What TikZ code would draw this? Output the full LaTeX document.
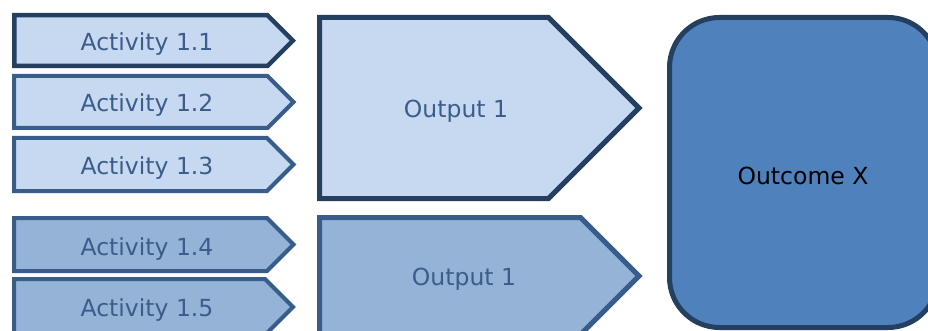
\documentclass[tikz,border=0pt]{standalone}
\usepackage{fontspec}
\setmainfont{DejaVu Sans}
\definecolor{paleblue}{HTML}{C6D9F1}
\definecolor{midblue}{HTML}{95B3D7}
\definecolor{strongblue}{HTML}{4F81BD}
\definecolor{navyline}{HTML}{243F60}
\definecolor{steelline}{HTML}{385D8A}
\definecolor{labelblue}{HTML}{3A5D8B}
\tikzset{
  chevron/.style={line width=4pt, miter limit=10, line join=miter},
  lbl/.style={anchor=base, inner sep=0pt, font=\fontsize{23.5}{28}\selectfont, text=labelblue},
}
% pentagon arrow: left x, top y, bottom y, right-end of straight part
\newcommand\pentarrow[5][]{%
  \draw[chevron,#1] (#2,#3) -- (#5,#3) -- ({#5+(#4-#3)/2},{(#3+#4)/2}) -- (#5,#4) -- (#2,#4) -- cycle;}
\begin{document}
\begin{tikzpicture}[x=1pt,y=-1pt]
  \clip (0,0) rectangle (928,331);
  \fill[white] (0,0) rectangle (928,331);

  % activities
  \pentarrow[fill=paleblue, draw=navyline, line width=4.5pt]{14.25}{15.25}{66}{267.5}
  \pentarrow[fill=paleblue, draw=steelline]{14}{76}{128}{267.5}
  \pentarrow[fill=paleblue, draw=steelline]{14}{138}{191}{267}
  \pentarrow[fill=midblue, draw=steelline]{14}{218}{271}{267}
  \pentarrow[fill=midblue, draw=steelline]{14}{279}{335}{265}

  % outputs
  \pentarrow[fill=paleblue, draw=navyline, line width=5pt]{319.5}{17.5}{198.5}{548.5}
  \pentarrow[fill=midblue, draw=steelline, line width=5pt]{319.5}{217.5}{334.5}{580.5}

  % outcome
  \draw[fill=strongblue, draw=navyline, line width=5pt, rounded corners=50pt]
    (669.5,17.5) rectangle (938,327.5);

  \node[lbl] (a11) at (147,51) {Activity 1.1};
  \node[lbl] (a12) at (147,111.5) {Activity 1.2};
  \node[lbl] (a13) at (147,175) {Activity 1.3};
  \node[lbl] (a14) at (147,255) {Activity 1.4};
  \node[lbl] (a15) at (147,316.5) {Activity 1.5};
  \node[lbl] (o1) at (456,118) {Output 1};
  \node[lbl] (o2) at (464,285) {Output 1};
  \node[lbl, text=black] (oc) at (803,185) {Outcome X};
\end{tikzpicture}
\end{document}
